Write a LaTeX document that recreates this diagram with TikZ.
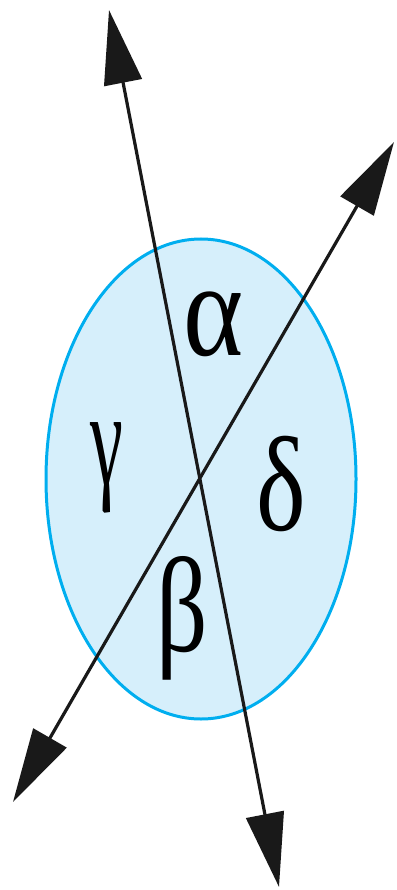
\documentclass[tikz,border=0pt]{standalone}
\usepackage{fontspec}
\setmainfont{Liberation Serif}
\usetikzlibrary{arrows.meta,shapes.geometric}
\definecolor{rim}{RGB}{0,174,239}
\definecolor{disk}{RGB}{214,239,251}
\tikzset{
  line/.style={line width=3.2pt, black!90, {Triangle[length=74pt,width=38pt]}-{Triangle[length=74pt,width=38pt]}},
  lab/.style={font=\fontsize{135}{135}\selectfont, inner sep=0pt},
}
\begin{document}
\begin{tikzpicture}[x=1pt,y=-1pt]
\useasboundingbox (0,0) rectangle (396,890);
\node[ellipse, draw=rim, fill=disk, line width=3pt, minimum width=310pt, minimum height=480pt, inner sep=0pt] (disc) at (201,479) {};
\coordinate (t1) at (109,10);
\coordinate (b1) at (279,887);
\coordinate (t2) at (394,142);
\coordinate (b2) at (13,802);
\draw[line] (b1) -- (t1);
\draw[line] (b2) -- (t2);
\node[lab, xscale=0.85] (alpha) at (214,324) {α};
\node[lab, xscale=0.55] (gamma) at (107,468) {γ};
\node[lab, xscale=0.78] (delta) at (281,484) {δ};
\node[lab, xscale=0.75] (beta) at (182,618) {β};
\end{tikzpicture}
\end{document}
